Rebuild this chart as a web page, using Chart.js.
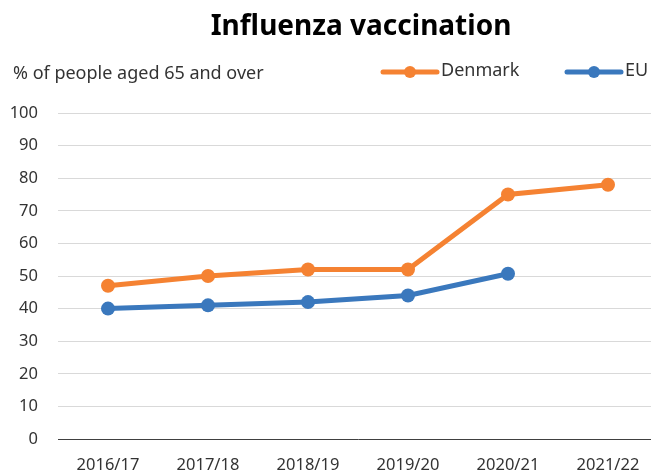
<!DOCTYPE html>
<html lang="en">
<head>
<meta charset="UTF-8">
<title>Influenza vaccination</title>
<script src="https://cdn.jsdelivr.net/npm/chart.js"></script>
<style>
  html, body { margin: 0; padding: 0; background: #fff; overflow: hidden; }
  .wrap { width: 665px; height: 475px; }
</style>
</head>
<body>
<div class="wrap"><canvas id="grafico"></canvas></div>
<script>
  const seasons = ['2016/17', '2017/18', '2018/19', '2019/20', '2020/21', '2021/22']
  const denmark = [47, 50, 52, 52, 75, 78]
  const eu = [40, 41, 42, 44, 50.7, null]
  const yTicks = [0, 10, 20, 30, 40, 50, 60, 70, 80, 90, 100]

  const fonte = '"Noto Sans", "Open Sans", sans-serif'

  // titulo, subtitulo e legenda desenhados na mao
  const extras = {
    id: 'extras',
    afterDraw(chart) {
      const ctx = chart.ctx
      ctx.save()
      ctx.fillStyle = '#000'
      ctx.font = 'bold 28px ' + fonte
      ctx.textAlign = 'center'
      ctx.textBaseline = 'middle'
      ctx.fillText('Influenza vaccination', 361, 27)

      ctx.fillStyle = '#333'
      ctx.font = '18px ' + fonte
      ctx.textAlign = 'left'
      ctx.fillText('% of people aged 65 and over', 13, 74)

      const itens = [{ x: 383, ds: chart.data.datasets[0] }, { x: 567, ds: chart.data.datasets[1] }]
      itens.forEach(it => {
        ctx.strokeStyle = it.ds.borderColor
        ctx.lineWidth = 5
        ctx.lineCap = 'round'
        ctx.beginPath()
        ctx.moveTo(it.x, 72)
        ctx.lineTo(it.x + 54, 72)
        ctx.stroke()
        ctx.fillStyle = it.ds.borderColor
        ctx.beginPath()
        ctx.arc(it.x + 27, 72, 6, 0, Math.PI * 2)
        ctx.fill()
        ctx.fillStyle = '#333'
        ctx.fillText(it.ds.label, it.x + 58, 71)
      })
      ctx.restore()
    }
  }

  new Chart(document.getElementById('grafico'), {
    type: 'line',
    data: {
      labels: seasons,
      datasets: [{
        label: 'Denmark',
        data: denmark,
        borderColor: '#f58232',
        backgroundColor: '#f58232',
        borderWidth: 5,
        pointRadius: 7,
        pointBorderWidth: 0,
        pointHoverRadius: 7,
        tension: 0
      }, {
        label: 'EU',
        data: eu,
        borderColor: '#3a78bd',
        backgroundColor: '#3a78bd',
        borderWidth: 5,
        pointRadius: 7,
        pointBorderWidth: 0,
        pointHoverRadius: 7,
        tension: 0
      }]
    },
    options: {
      responsive: true,
      maintainAspectRatio: false,
      animation: false,
      layout: { padding: { top: 113, left: 0, right: 2, bottom: 0 } },
      plugins: {
        legend: { display: false },
        title: { display: false },
        tooltip: { enabled: false }
      },
      scales: {
        y: {
          min: 0,
          max: 100,
          afterBuildTicks(axis) { axis.ticks = yTicks.map(v => ({ value: v })) },
          afterFit(axis) { axis.width = 58 },
          border: { display: false },
          grid: { color: '#d9d9d9', lineWidth: 1, drawTicks: false },
          ticks: { color: '#333', font: { family: fonte, size: 16.5 }, padding: 20 }
        },
        x: {
          offset: true,
          afterFit(axis) { axis.height = 36 },
          border: { display: true, color: '#404040', width: 1 },
          grid: { display: false, drawTicks: false },
          ticks: { color: '#333', font: { family: fonte, size: 16.5 }, padding: 16, maxRotation: 0 }
        }
      }
    },
    plugins: [extras]
  })
</script>
</body>
</html>
